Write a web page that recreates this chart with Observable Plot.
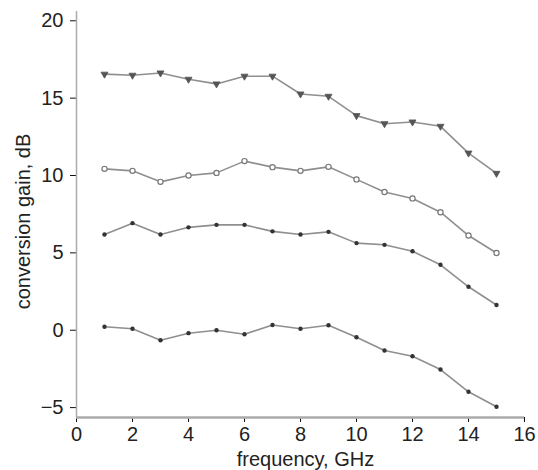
<!DOCTYPE html>
<html>
<head>
<meta charset="utf-8">
<script src="https://cdn.jsdelivr.net/npm/d3@7"></script>
<script src="https://cdn.jsdelivr.net/npm/@observablehq/plot@0.6"></script>
<style>
  html, body { margin: 0; padding: 0; background: #fff; }
  #chart svg { display: block; }
</style>
</head>
<body>
<div id="chart"></div>
<script>
const freq = [1, 2, 3, 4, 5, 6, 7, 8, 9, 10, 11, 12, 13, 14, 15];
const seriesTriangle = [16.55, 16.48, 16.63, 16.22, 15.92, 16.42, 16.42, 15.27, 15.12, 13.87, 13.35, 13.46, 13.18, 11.45, 10.14];
const seriesOpen = [10.43, 10.30, 9.59, 10.00, 10.17, 10.93, 10.54, 10.30, 10.56, 9.75, 8.93, 8.52, 7.63, 6.12, 4.99];
const seriesDotA = [6.19, 6.92, 6.19, 6.65, 6.81, 6.81, 6.39, 6.19, 6.36, 5.63, 5.52, 5.10, 4.23, 2.81, 1.63];
const seriesDotB = [0.23, 0.10, -0.65, -0.19, 0.00, -0.26, 0.34, 0.10, 0.32, -0.45, -1.31, -1.68, -2.54, -3.98, -4.95];
const xTicks = [0, 2, 4, 6, 8, 10, 12, 14, 16];
const yTicks = [-5, 0, 5, 10, 15, 20];

const toRows = (vals) => freq.map((f, i) => ({f, v: vals[i]}));
const rowsT = toRows(seriesTriangle);
const rowsO = toRows(seriesOpen);
const rowsA = toRows(seriesDotA);
const rowsB = toRows(seriesDotB);

const yMin = -5.64, yMax = 20.6;
const lineColor = "#8f8f8f";
const axisColor = "#ababab";
const fontSize = 20;

const chart = Plot.plot({
  width: 538,
  height: 470,
  marginLeft: 76,
  marginRight: 14,
  marginTop: 11,
  marginBottom: 53,
  style: {fontFamily: "'Liberation Sans', Arial, Helvetica, sans-serif", fontSize: fontSize + "px", color: "#222", background: "#fff"},
  x: {domain: [0, 16], axis: null},
  y: {domain: [yMin, yMax], axis: null},
  marks: [
    Plot.axisX({ticks: xTicks, tickSize: 5, tickPadding: 4, stroke: "#111", fontSize: fontSize, label: null, tickFormat: d3.format("d")}),
    Plot.axisY({ticks: yTicks, tickSize: 6, tickPadding: 7, stroke: "#111", fontSize: fontSize, label: null, tickFormat: d3.format("d")}),
    Plot.ruleX([0], {y1: yMin, y2: yMax, stroke: axisColor, strokeWidth: 1.5}),
    Plot.ruleY([yMin], {x1: 0, x2: 16, stroke: axisColor, strokeWidth: 2.5}),
    Plot.line(rowsT, {x: "f", y: "v", stroke: lineColor, strokeWidth: 1.6}),
    Plot.line(rowsO, {x: "f", y: "v", stroke: lineColor, strokeWidth: 1.6}),
    Plot.line(rowsA, {x: "f", y: "v", stroke: lineColor, strokeWidth: 1.6}),
    Plot.line(rowsB, {x: "f", y: "v", stroke: lineColor, strokeWidth: 1.6}),
    Plot.dot(rowsT, {x: "f", y: "v", symbol: "triangle", rotate: 180, r: 2.6, fill: "#555", stroke: "#555", strokeWidth: 0.8}),
    Plot.dot(rowsO, {x: "f", y: "v", symbol: "circle", r: 2.6, fill: "#fff", stroke: "#777", strokeWidth: 1.2}),
    Plot.dot(rowsA, {x: "f", y: "v", symbol: "circle", r: 2.2, fill: "#333", stroke: "none"}),
    Plot.dot(rowsB, {x: "f", y: "v", symbol: "circle", r: 2.2, fill: "#333", stroke: "none"}),
    Plot.text(["frequency, GHz"], {frameAnchor: "bottom", text: d => d, textAnchor: "middle", lineAnchor: "middle", dy: 42, dx: 5, fontSize: fontSize, fill: "#222"}),
    Plot.text(["conversion gain, dB"], {frameAnchor: "left", text: d => d, textAnchor: "middle", lineAnchor: "middle", rotate: -90, dx: -53, dy: 7, fontSize: fontSize, fill: "#222"})
  ]
});
document.getElementById("chart").append(chart);
</script>
</body>
</html>
